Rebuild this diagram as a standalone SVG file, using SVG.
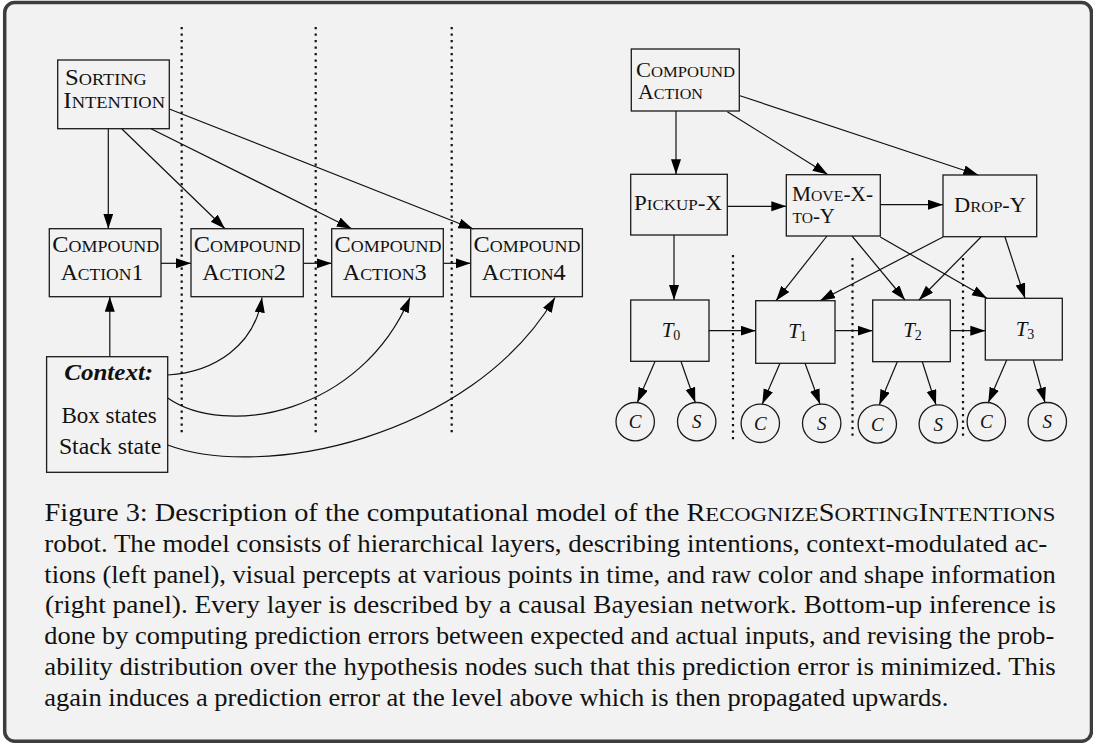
<svg xmlns="http://www.w3.org/2000/svg" width="1093" height="743" viewBox="0 0 1093 743">
<style>
.bx{fill:none;stroke:#1a1a1a;stroke-width:1.3}
.ln{fill:none;stroke:#111;stroke-width:1.2}
.dot{fill:none;stroke:#111;stroke-width:2.2;stroke-dasharray:2.2 4.3}
.lbl{font-family:"Liberation Serif",serif;font-size:22.5px;fill:#111}
.sc{font-size:16.6px}
.rl{font-family:"Liberation Serif",serif;font-size:20px;fill:#111}
.rl .sc{font-size:14.8px}
.ctx{font-family:"Liberation Serif",serif;font-size:23px;fill:#111}
.mth{font-family:"Liberation Serif",serif;font-size:21px;fill:#111;font-style:italic}
.sub{font-size:14px;font-style:normal}
.cir{font-family:"Liberation Serif",serif;font-size:19px;fill:#111;font-style:italic}
.cap{font-family:"Liberation Serif",serif;font-size:24.5px;fill:#111}
.csc{font-size:19.6px}
</style>
<defs>
<marker id="ah" markerUnits="userSpaceOnUse" markerWidth="16" markerHeight="11" refX="15" refY="5" orient="auto">
<path d="M0,0 L15,5 L0,10 z" fill="#000"/>
</marker>
</defs>
<rect x="0" y="0" width="1093" height="743" fill="#fff"/>
<rect id="frame" x="4.7" y="2.5" width="1086.8" height="738.8" rx="10" fill="#f2f2f2" stroke="#3d3d3d" stroke-width="3.5"/>

<g id="separators">
<line class="dot" x1="181.7" y1="27" x2="181.7" y2="435"/>
<line class="dot" x1="315.7" y1="27" x2="315.7" y2="435"/>
<line class="dot" x1="451.7" y1="27" x2="451.7" y2="435"/>
<line class="dot" x1="733" y1="255" x2="733" y2="443"/>
<line class="dot" x1="852.5" y1="258" x2="852.5" y2="440"/>
<line class="dot" x1="963" y1="258" x2="963" y2="440"/>
</g>

<g id="connectors">
<path class="ln" d="M108.3,128.7 L108.3,228.7" marker-end="url(#ah)"/>
<path class="ln" d="M121.7,128.7 L225,228.7" marker-end="url(#ah)"/>
<path class="ln" d="M151,128.7 L351.7,228.7" marker-end="url(#ah)"/>
<path class="ln" d="M169.3,109 L473.3,229" marker-end="url(#ah)"/>
<path class="ln" d="M161,263.3 L191,263.3" marker-end="url(#ah)"/>
<path class="ln" d="M303.3,263.3 L331.7,263.3" marker-end="url(#ah)"/>
<path class="ln" d="M443.3,263.3 L470.7,263.3" marker-end="url(#ah)"/>
<path class="ln" d="M109.8,356.7 L109.8,296.7" marker-end="url(#ah)"/>
<path class="ln" d="M167.7,375 C215,372 255,345 262,297.5" marker-end="url(#ah)"/>
<path class="ln" d="M167.7,398 C225,438 360,415 410,297.5" marker-end="url(#ah)"/>
<path class="ln" d="M167.7,445 C260,480 470,440 555,297.5" marker-end="url(#ah)"/>

<path class="ln" d="M676,111 L676,174.3" marker-end="url(#ah)"/>
<path class="ln" d="M727.3,111.7 L827.7,174.5" marker-end="url(#ah)"/>
<path class="ln" d="M740,95.7 L978.3,175" marker-end="url(#ah)"/>
<path class="ln" d="M727.3,206.3 L786.3,206.3" marker-end="url(#ah)"/>
<path class="ln" d="M880.3,204.7 L943,204.7" marker-end="url(#ah)"/>
<path class="ln" d="M674,235 L674,300" marker-end="url(#ah)"/>
<path class="ln" d="M827,236 L776,300.7" marker-end="url(#ah)"/>
<path class="ln" d="M852,236 L905,300" marker-end="url(#ah)"/>
<path class="ln" d="M880.3,237 L987,298.3" marker-end="url(#ah)"/>
<path class="ln" d="M943,237 L820,300.7" marker-end="url(#ah)"/>
<path class="ln" d="M981,237 L919,300" marker-end="url(#ah)"/>
<path class="ln" d="M1005,237 L1025,298.3" marker-end="url(#ah)"/>
<path class="ln" d="M708.7,330.7 L755.7,330.7" marker-end="url(#ah)"/>
<path class="ln" d="M835,330.7 L872.7,330.7" marker-end="url(#ah)"/>
<path class="ln" d="M950.3,330.7 L985.3,330.7" marker-end="url(#ah)"/>
<path class="ln" d="M655,361.5 L637.3,402.5" marker-end="url(#ah)"/>
<path class="ln" d="M681,361.5 L695.3,402.5" marker-end="url(#ah)"/>
<path class="ln" d="M780,363.3 L762.3,404" marker-end="url(#ah)"/>
<path class="ln" d="M805,363.3 L820,404" marker-end="url(#ah)"/>
<path class="ln" d="M897.3,361.7 L879.3,404.8" marker-end="url(#ah)"/>
<path class="ln" d="M922.3,361.7 L936,404.8" marker-end="url(#ah)"/>
<path class="ln" d="M1006.7,360 L988.3,402.5" marker-end="url(#ah)"/>
<path class="ln" d="M1033.3,360 L1045,402.5" marker-end="url(#ah)"/>
</g>

<g id="sorting-intention">
<rect class="bx" x="57.7" y="60" width="111.6" height="68.7"/>
<text class="lbl" x="65" y="85" textLength="81.7" lengthAdjust="spacingAndGlyphs">S<tspan class="sc">ORTING</tspan></text>
<text class="lbl" x="63.3" y="108.3" textLength="101.7" lengthAdjust="spacingAndGlyphs">I<tspan class="sc">NTENTION</tspan></text>
</g>
<g id="compound-action1">
<rect class="bx" x="49.3" y="228.7" width="111.7" height="68"/>
<text class="lbl" x="52.3" y="251.7" textLength="107" lengthAdjust="spacingAndGlyphs">C<tspan class="sc">OMPOUND</tspan></text>
<text class="lbl" x="60.7" y="280" textLength="82.6" lengthAdjust="spacingAndGlyphs">A<tspan class="sc">CTION</tspan>1</text>
</g>
<g id="compound-action2">
<rect class="bx" x="191" y="228.7" width="112.3" height="68"/>
<text class="lbl" x="193.8" y="251.7" textLength="107" lengthAdjust="spacingAndGlyphs">C<tspan class="sc">OMPOUND</tspan></text>
<text class="lbl" x="202.3" y="280" textLength="83.4" lengthAdjust="spacingAndGlyphs">A<tspan class="sc">CTION</tspan>2</text>
</g>
<g id="compound-action3">
<rect class="bx" x="331.7" y="228.7" width="111.6" height="68"/>
<text class="lbl" x="334.5" y="251.7" textLength="107" lengthAdjust="spacingAndGlyphs">C<tspan class="sc">OMPOUND</tspan></text>
<text class="lbl" x="342.7" y="280" textLength="84" lengthAdjust="spacingAndGlyphs">A<tspan class="sc">CTION</tspan>3</text>
</g>
<g id="compound-action4">
<rect class="bx" x="470.7" y="228.7" width="111.7" height="68"/>
<text class="lbl" x="473.5" y="251.7" textLength="107" lengthAdjust="spacingAndGlyphs">C<tspan class="sc">OMPOUND</tspan></text>
<text class="lbl" x="481.7" y="280" textLength="84" lengthAdjust="spacingAndGlyphs">A<tspan class="sc">CTION</tspan>4</text>
</g>
<g id="context">
<rect class="bx" x="46.6" y="356.7" width="121.1" height="115.6"/>
<text class="ctx" x="64.2" y="380" font-weight="bold" font-style="italic" textLength="89" lengthAdjust="spacingAndGlyphs">Context:</text>
<text class="ctx" x="61.4" y="422.7" textLength="95.4" lengthAdjust="spacingAndGlyphs">Box states</text>
<text class="ctx" x="58.9" y="454" textLength="102.4" lengthAdjust="spacingAndGlyphs">Stack state</text>
</g>

<g id="compound-action">
<rect class="bx" x="631.3" y="49" width="108" height="62"/>
<text class="rl" x="636" y="77" textLength="99" lengthAdjust="spacingAndGlyphs">C<tspan class="sc">OMPOUND</tspan></text>
<text class="rl" x="638" y="98.5" textLength="65" lengthAdjust="spacingAndGlyphs">A<tspan class="sc">CTION</tspan></text>
</g>
<g id="pickup-x">
<rect class="bx" x="630.7" y="174.3" width="96.6" height="60.7"/>
<text class="rl" x="634" y="210" textLength="88" lengthAdjust="spacingAndGlyphs">P<tspan class="sc">ICKUP</tspan>-X</text>
</g>
<g id="move-x-to-y">
<rect class="bx" x="786.3" y="174.7" width="94" height="61.3"/>
<text class="rl" x="792" y="201" textLength="81" lengthAdjust="spacingAndGlyphs">M<tspan class="sc">OVE</tspan>-X-</text>
<text class="rl" x="792.5" y="223" textLength="42.5" lengthAdjust="spacingAndGlyphs"><tspan class="sc">TO</tspan>-Y</text>
</g>
<g id="drop-y">
<rect class="bx" x="943" y="175" width="93.7" height="61.7"/>
<text class="rl" x="954" y="212" textLength="72" lengthAdjust="spacingAndGlyphs">D<tspan class="sc">ROP</tspan>-Y</text>
</g>
<g id="t0">
<rect class="bx" x="630.7" y="300" width="78.3" height="61.3"/>
<text class="mth" x="671" y="337.3" text-anchor="middle">T<tspan class="sub" dy="3">0</tspan></text>
</g>
<g id="t1">
<rect class="bx" x="755.7" y="300.7" width="79.3" height="62.6"/>
<text class="mth" x="797.5" y="338" text-anchor="middle">T<tspan class="sub" dy="3">1</tspan></text>
</g>
<g id="t2">
<rect class="bx" x="872.7" y="300" width="77.6" height="61.7"/>
<text class="mth" x="912.5" y="337.3" text-anchor="middle">T<tspan class="sub" dy="3">2</tspan></text>
</g>
<g id="t3">
<rect class="bx" x="985.3" y="298.3" width="77" height="61.7"/>
<text class="mth" x="1025" y="336" text-anchor="middle">T<tspan class="sub" dy="3">3</tspan></text>
</g>
<g id="c0"><circle class="bx" cx="635.2" cy="421.7" r="19.2"/><text class="cir" x="635.2" y="428.3" text-anchor="middle">C</text></g>
<g id="s0"><circle class="bx" cx="696.7" cy="421.7" r="19.2"/><text class="cir" x="696.7" y="428.3" text-anchor="middle">S</text></g>
<g id="c1"><circle class="bx" cx="760.3" cy="423.3" r="19.2"/><text class="cir" x="760.3" y="429.9" text-anchor="middle">C</text></g>
<g id="s1"><circle class="bx" cx="821.7" cy="423.3" r="19.2"/><text class="cir" x="821.7" y="429.9" text-anchor="middle">S</text></g>
<g id="c2"><circle class="bx" cx="877.3" cy="424" r="19.2"/><text class="cir" x="877.3" y="430.6" text-anchor="middle">C</text></g>
<g id="s2"><circle class="bx" cx="938.3" cy="424" r="19.2"/><text class="cir" x="938.3" y="430.6" text-anchor="middle">S</text></g>
<g id="c3"><circle class="bx" cx="986.3" cy="421.7" r="19.2"/><text class="cir" x="986.3" y="428.3" text-anchor="middle">C</text></g>
<g id="s3"><circle class="bx" cx="1047.3" cy="421.7" r="19.2"/><text class="cir" x="1047.3" y="428.3" text-anchor="middle">S</text></g>

<g id="caption" class="cap">
<text x="44.5" y="520.7" textLength="1011" lengthAdjust="spacingAndGlyphs">Figure 3:  Description of the computational model of the R<tspan class="csc">ECOGNIZE</tspan>S<tspan class="csc">ORTING</tspan>I<tspan class="csc">NTENTIONS</tspan></text>
<text x="44.3" y="551.7" textLength="1003" lengthAdjust="spacingAndGlyphs">robot.  The model consists of hierarchical layers, describing intentions, context-modulated ac-</text>
<text x="44.3" y="582.7" textLength="1011.5" lengthAdjust="spacingAndGlyphs">tions (left panel), visual percepts at various points in time, and raw color and shape information</text>
<text x="45" y="613.3" textLength="1010.8" lengthAdjust="spacingAndGlyphs">(right panel).  Every layer is described by a causal Bayesian network.  Bottom-up inference is</text>
<text x="44.3" y="644.3" textLength="1010" lengthAdjust="spacingAndGlyphs">done by computing prediction errors between expected and actual inputs, and revising the prob-</text>
<text x="44.3" y="675" textLength="1011.5" lengthAdjust="spacingAndGlyphs">ability distribution over the hypothesis nodes such that this prediction error is minimized.  This</text>
<text x="44.3" y="706" textLength="904" lengthAdjust="spacingAndGlyphs">again induces a prediction error at the level above which is then propagated upwards.</text>
</g>
</svg>
